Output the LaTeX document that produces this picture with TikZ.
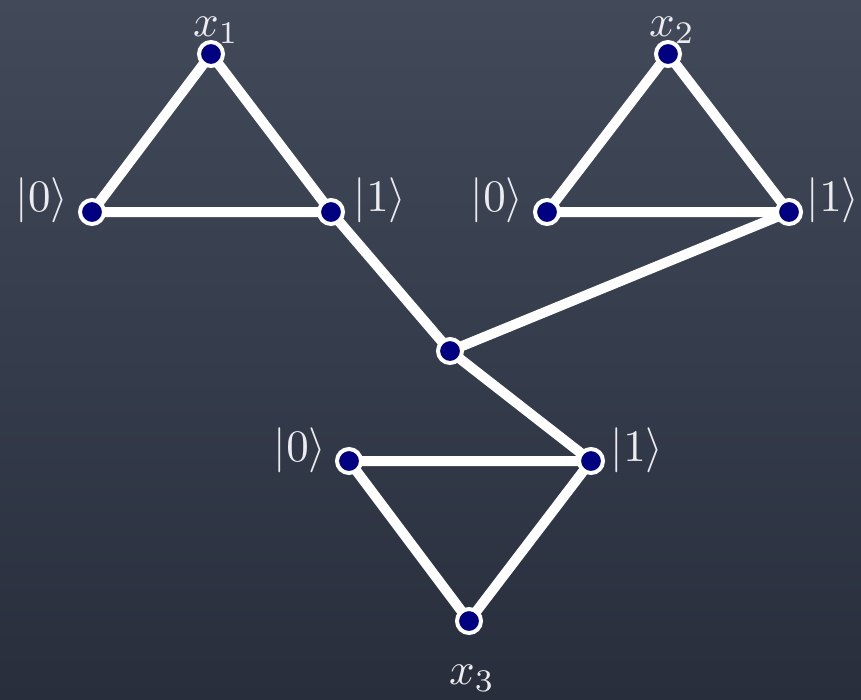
\documentclass[tikz,border=0pt]{standalone}
\definecolor{boardtop}{RGB}{66,74,90}
\definecolor{boardbot}{RGB}{40,46,60}
\definecolor{dotblue}{RGB}{0,0,128}
\definecolor{chalk}{RGB}{236,236,240}
\newcommand{\bigtxt}[1]{\scalebox{4.5}{#1}}
\begin{document}
\begin{tikzpicture}[x=1pt,y=-1pt,
  dot/.style={circle,fill=dotblue,draw=white,line width=4pt,minimum size=24pt,inner sep=0pt},
  edge/.style={white,line width=10pt,line cap=round},
  lab/.style={text=chalk,inner sep=0pt}]
\shade[top color=boardtop,bottom color=boardbot] (0,0) rectangle (861,699);
\useasboundingbox (0,0) rectangle (861,699);
% node positions
\coordinate (px1) at (211,54);
\coordinate (pa0) at (92,212);
\coordinate (pa1) at (331,212);
\coordinate (px2) at (668,54);
\coordinate (pb0) at (547,212);
\coordinate (pb1) at (789,212);
\coordinate (pc) at (450,351);
\coordinate (pd0) at (349,461);
\coordinate (pd1) at (591,461);
\coordinate (px3) at (469,621);
% edges
\draw[edge] (px1) -- (pa0) -- (pa1) -- cycle;
\draw[edge] (px2) -- (pb0) -- (pb1) -- cycle;
\draw[edge] (pa1) -- (pc) -- (pb1);
\draw[edge] (pc) -- (pd1);
\draw[edge] (pd0) -- (pd1) -- (px3) -- cycle;
% dots
\foreach \n in {x1,a0,a1,x2,b0,b1,c,d0,d1,x3}
  \node[dot] (\n) at (p\n) {};
% labels
\node[lab] (lx1) at (216,30) {\bigtxt{$x_1$}};
\node[lab] (la0) at (42,200) {\bigtxt{$|0\rangle$}};
\node[lab] (la1) at (380,200) {\bigtxt{$|1\rangle$}};
\node[lab] (lx2) at (672,30) {\bigtxt{$x_2$}};
\node[lab] (lb0) at (497,200) {\bigtxt{$|0\rangle$}};
\node[lab] (lb1) at (833,200) {\bigtxt{$|1\rangle$}};
\node[lab] (ld0) at (300,450) {\bigtxt{$|0\rangle$}};
\node[lab] (ld1) at (637,450) {\bigtxt{$|1\rangle$}};
\node[lab] (lx3) at (472,678) {\bigtxt{$x_3$}};
\end{tikzpicture}
\end{document}
